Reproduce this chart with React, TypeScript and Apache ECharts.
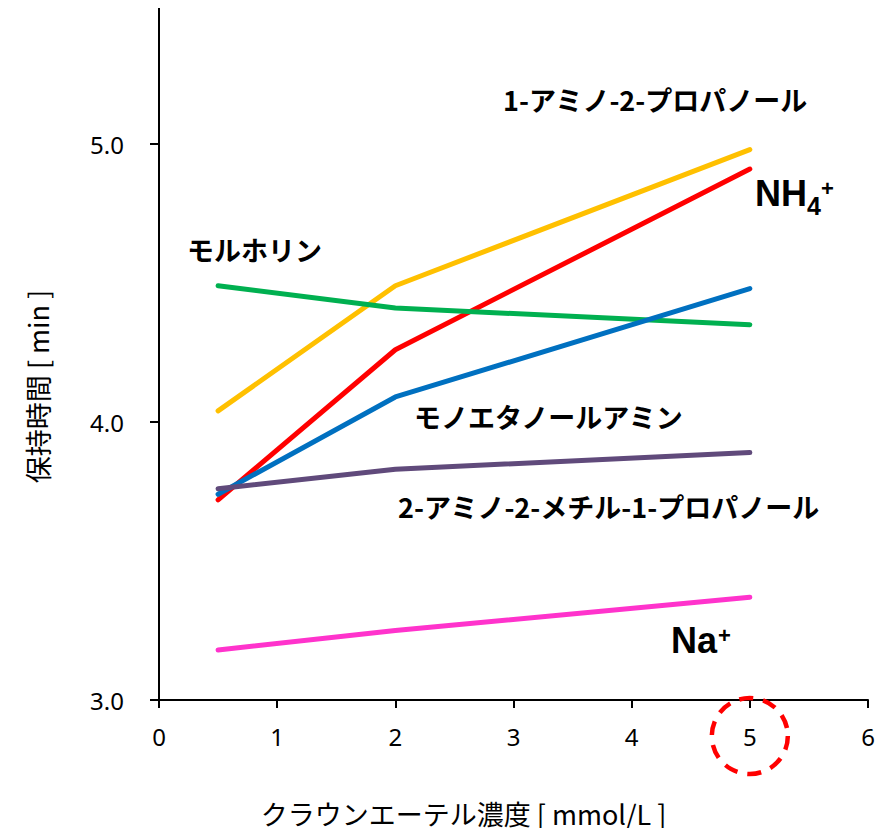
import React, { useEffect, useRef } from "react";
import * as echarts from "echarts";

const concentrations = [0.5, 2, 5];
const aminoPropanol = [4.04, 4.49, 4.98];
const ammonium = [3.72, 4.26, 4.91];
const morpholine = [4.49, 4.41, 4.35];
const monoethanolamine = [3.74, 4.09, 4.48];
const aminoMethylPropanol = [3.76, 3.83, 3.89];
const sodium = [3.18, 3.25, 3.37];

const xTicks = [0, 1, 2, 3, 4, 5, 6];
const yTicks = [3.0, 4.0, 5.0];

const seriesDefs = [
  { name: "1-アミノ-2-プロパノール", values: aminoPropanol, color: "#FFC000" },
  { name: "NH4+", values: ammonium, color: "#FF0000" },
  { name: "モルホリン", values: morpholine, color: "#00B050" },
  { name: "モノエタノールアミン", values: monoethanolamine, color: "#0070C0" },
  { name: "2-アミノ-2-メチル-1-プロパノール", values: aminoMethylPropanol, color: "#604A7B" },
  { name: "Na+", values: sodium, color: "#FF33CC" },
];

const LATIN = "'Noto Sans', 'Noto Sans CJK JP', sans-serif";
const ARIAL = "'Liberation Sans', Arial, sans-serif";
const JP = "'Noto Sans CJK JP', 'Noto Sans', sans-serif";

export default function App() {
  const ref = useRef<HTMLDivElement>(null);
  useEffect(() => {
    if (!ref.current) return;
    const chart = echarts.init(ref.current, undefined, { renderer: "svg" });
    const labelStyle = { fontFamily: JP, fontWeight: "bold" as const, fontSize: 27, fill: "#000" };
    chart.setOption({
      animation: false,
      backgroundColor: "#fff",
      grid: { left: 159, right: 21, top: 5, bottom: 136 },
      xAxis: {
        type: "value",
        min: 0,
        max: 6,
        interval: 1,
        name: "クラウンエーテル濃度 [ mmol/L ]",
        nameLocation: "middle",
        nameGap: 100,
        nameTextStyle: { fontFamily: JP, fontSize: 27, color: "#000", padding: [0, 100, 0, 0] },
        axisLine: { lineStyle: { color: "#000", width: 2 } },
        axisTick: { show: true, length: 8, lineStyle: { color: "#000", width: 2 } },
        axisLabel: {
          fontFamily: LATIN,
          fontSize: 24,
          color: "#000",
          margin: 24,
          formatter: (v: number) => (xTicks.includes(v) ? String(v) : ""),
        },
        splitLine: { show: false },
      },
      yAxis: {
        type: "value",
        min: 3,
        max: 5.5,
        interval: 1,
        name: "保持時間 [ min ]",
        nameLocation: "middle",
        nameGap: 108,
        nameTextStyle: { fontFamily: JP, fontSize: 27, color: "#000", padding: [0, 68, 0, 0] },
        axisLine: { show: true, lineStyle: { color: "#000", width: 2 } },
        axisTick: { show: true, length: 9, lineStyle: { color: "#000", width: 2 } },
        axisLabel: {
          fontFamily: LATIN,
          fontSize: 24,
          color: "#000",
          margin: 35,
          formatter: (v: number) => (yTicks.some((t) => Math.abs(t - v) < 1e-9) ? v.toFixed(1) : ""),
        },
        splitLine: { show: false },
      },
      series: seriesDefs.map((s) => ({
        type: "line",
        name: s.name,
        data: concentrations.map((c, i) => [c, s.values[i]]),
        showSymbol: false,
        symbol: "none",
        lineStyle: { color: s.color, width: 5, cap: "round", join: "round" },
        z: 2,
      })),
    });
    const [cx, cy] = chart.convertToPixel({ gridIndex: 0 }, [5, 3]) as number[];
    chart.setOption({
      graphic: [
        { type: "text", left: 503, top: 86, style: { ...labelStyle, text: "1-アミノ-2-プロパノール" } },
        { type: "text", left: 187, top: 236, style: { ...labelStyle, text: "モルホリン" } },
        { type: "text", left: 414, top: 403, style: { ...labelStyle, text: "モノエタノールアミン" } },
        { type: "text", left: 398, top: 493, style: { ...labelStyle, text: "2-アミノ-2-メチル-1-プロパノール" } },
        {
          type: "group",
          left: 755,
          top: 175,
          children: [
            { type: "text", x: 0, y: 0, style: { fontFamily: ARIAL, fontWeight: "bold", fontSize: 36, fill: "#000", text: "NH" } },
            { type: "text", x: 52, y: 18, style: { fontFamily: ARIAL, fontWeight: "bold", fontSize: 25, fill: "#000", text: "4" } },
            { type: "text", x: 66, y: 2, style: { fontFamily: ARIAL, fontWeight: "bold", fontSize: 22, fill: "#000", text: "+" } },
          ],
        },
        {
          type: "group",
          left: 671,
          top: 622,
          children: [
            { type: "text", x: 0, y: 0, style: { fontFamily: ARIAL, fontWeight: "bold", fontSize: 36, fill: "#000", text: "Na" } },
            { type: "text", x: 47, y: 2, style: { fontFamily: ARIAL, fontWeight: "bold", fontSize: 22, fill: "#000", text: "+" } },
          ],
        },
        {
          type: "circle",
          shape: { cx, cy: cy + 36, r: 38 },
          style: { fill: "none", stroke: "#FF0000", lineWidth: 4.5, lineDash: [14, 10] },
          z: 10,
        },
      ],
    });
    return () => chart.dispose();
  }, []);
  return <div ref={ref} style={{ width: 889, height: 836, margin: -8 }} />;
}
